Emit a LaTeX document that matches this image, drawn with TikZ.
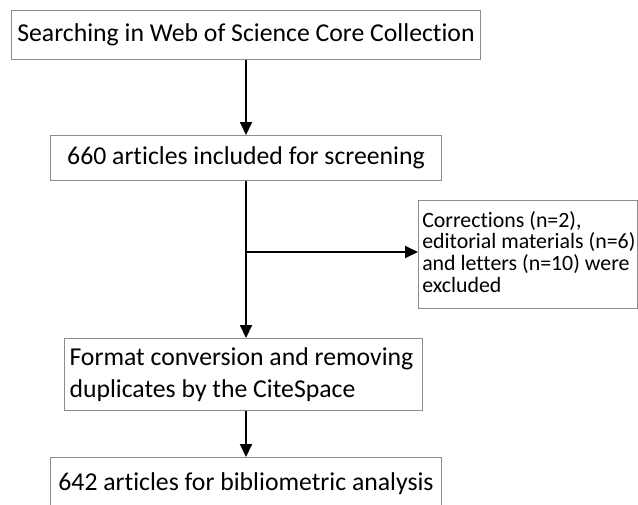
\documentclass[tikz,border=0pt]{standalone}
\usepackage{fontspec}
\setmainfont{Carlito}[Ligatures=NoCommon]
\usetikzlibrary{arrows.meta}
\begin{document}
\begin{tikzpicture}[x=0.75pt,y=-0.75pt,
  box/.style={draw=black!45, line width=0.75pt, inner xsep=0pt, inner ysep=0pt, anchor=north west, font=\fontsize{19.3}{24}\selectfont},
  smalltext/.style={inner sep=0pt, anchor=base west, font=\fontsize{16.4}{16.3}\selectfont, text width={215*0.75pt}, align=flush left},
  arr/.style={line width=1.5pt, -{Triangle[width=9pt,length=9.75pt]}}]
\clip (0,0) rectangle (638,504);
\node[box, minimum width={469*0.75pt}, minimum height={49*0.75pt}] (b1) at (11,10) {Searching in Web of Science Core Collection};
\node[box, minimum width={391*0.75pt}, minimum height={45*0.75pt}] (b2) at (50,135) {660 articles included for screening};
\node[box, minimum width={219*0.75pt}, minimum height={108*0.75pt}] (b3) at (418,200) {};
\node[smalltext] (b3t) at (422,227) {Corrections (n=2),\\editorial materials (n=6)\\and letters (n=10) were\\excluded};
\node[box, minimum width={358*0.75pt}, minimum height={72*0.75pt}, text width={348*0.75pt}, inner xsep=3.75pt, align=flush left] (b4) at (64,338) {Format conversion and removing\\duplicates by the CiteSpace};
\node[box, minimum width={391*0.75pt}, minimum height={53*0.75pt}] (b5) at (50,457) {642 articles for bibliometric analysis};
\coordinate (j) at (b2.south |- 0,252);
\draw[arr] (b1.south) -- (b2.north);
\draw[arr] (b2.south) -- (b2.south |- b4.north);
\draw[arr] (j) -- (j -| b3.west);
\draw[arr] (b2.south |- b4.south) -- (b2.south |- b5.north);
\end{tikzpicture}
\end{document}
